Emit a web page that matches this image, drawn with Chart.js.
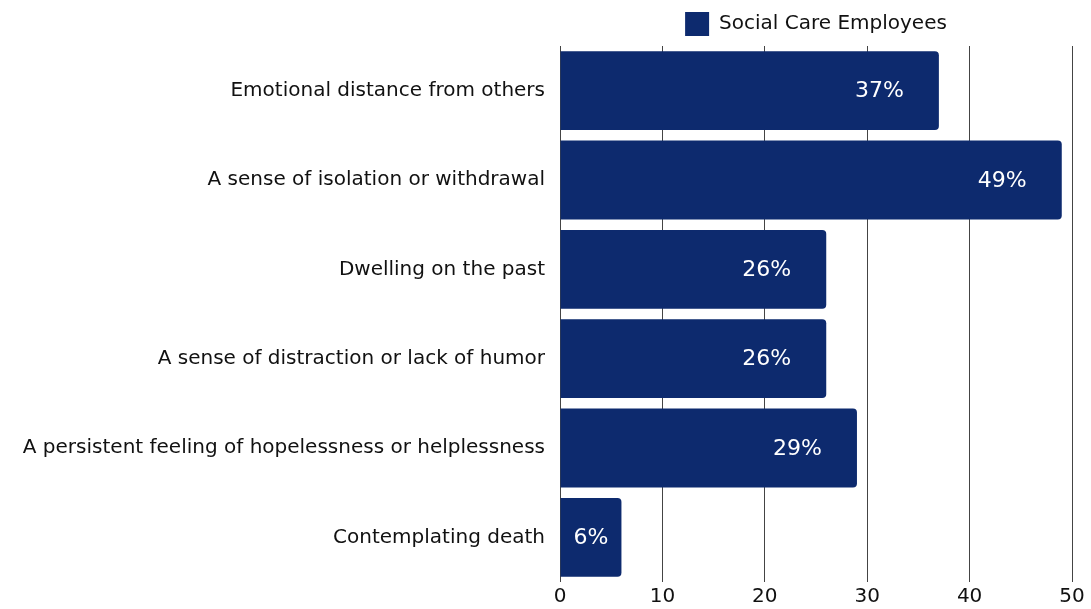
<!DOCTYPE html>
<html lang="en">
<head>
  <meta charset="UTF-8">
  <title>Social Care Employees</title>
  <style>
    html, body { margin: 0; padding: 0; background: #fff; }
    .chart-container { width: 1091px; height: 609px; }
  </style>
</head>
<body>
<div class="chart-container">
  <canvas id="barChart"></canvas>
</div>
<script src="https://cdn.jsdelivr.net/npm/chart.js"></script>
<script>
  const categories = [
    'Emotional distance from others',
    'A sense of isolation or withdrawal',
    'Dwelling on the past',
    'A sense of distraction or lack of humor',
    'A persistent feeling of hopelessness or helplessness',
    'Contemplating death'
  ];
  const employees = [37, 49, 26, 26, 29, 6];
  const xTicks = [0, 10, 20, 30, 40, 50];

  const navy = '#0d2a6e';
  const fontFamily = '"DejaVu Sans", Inter, sans-serif';

  // white % labels inside the bars, centred when the bar is short
  const barLabels = {
    id: 'barLabels',
    afterDatasetsDraw(chart) {
      const ctx = chart.ctx;
      const meta = chart.getDatasetMeta(0);
      ctx.save();
      ctx.font = '22px ' + fontFamily;
      ctx.fillStyle = '#ffffff';
      ctx.textBaseline = 'middle';
      meta.data.forEach((bar, i) => {
        const text = employees[i] + '%';
        const w = ctx.measureText(text).width;
        const left = bar.base;
        const right = bar.x;
        let x = right - 35 - w;
        if (x < left + 12) x = left + (right - left - w) / 2;
        ctx.textAlign = 'left';
        ctx.fillText(text, x, bar.y + 1);
      });
      ctx.restore();
    }
  };

  const ctx = document.getElementById('barChart').getContext('2d');
  new Chart(ctx, {
    type: 'bar',
    data: {
      labels: categories,
      datasets: [{
        label: 'Social Care Employees',
        data: employees,
        backgroundColor: navy,
        borderRadius: { topRight: 4, bottomRight: 4, topLeft: 0, bottomLeft: 0 },
        borderSkipped: false,
        barPercentage: 0.883,
        categoryPercentage: 1
      }]
    },
    options: {
      indexAxis: 'y',
      responsive: true,
      maintainAspectRatio: false,
      animation: false,
      layout: { padding: { left: 0, right: 19, top: 0, bottom: 0 } },
      scales: {
        x: {
          min: 0,
          max: 50,
          afterBuildTicks: scale => { scale.ticks = xTicks.map(v => ({ value: v })); },
          afterFit: scale => { scale.height = 22; },
          grid: { color: '#444444', lineWidth: 1, drawTicks: false },
          border: { display: false },
          ticks: { color: '#111111', font: { family: fontFamily, size: 20, lineHeight: 1 }, padding: 5 }
        },
        y: {
          afterFit: scale => { scale.width = 560; },
          grid: { display: false, drawTicks: false },
          border: { display: false },
          ticks: { color: '#111111', font: { family: fontFamily, size: 20 }, padding: 15 }
        }
      },
      plugins: {
        legend: {
          fullSize: false,
          labels: {
            boxWidth: 24,
            boxHeight: 24,
            padding: 12,
            color: '#111111',
            font: { family: fontFamily, size: 20 }
          }
        },
        tooltip: { enabled: false }
      }
    },
    plugins: [barLabels]
  });
</script>
</body>
</html>
